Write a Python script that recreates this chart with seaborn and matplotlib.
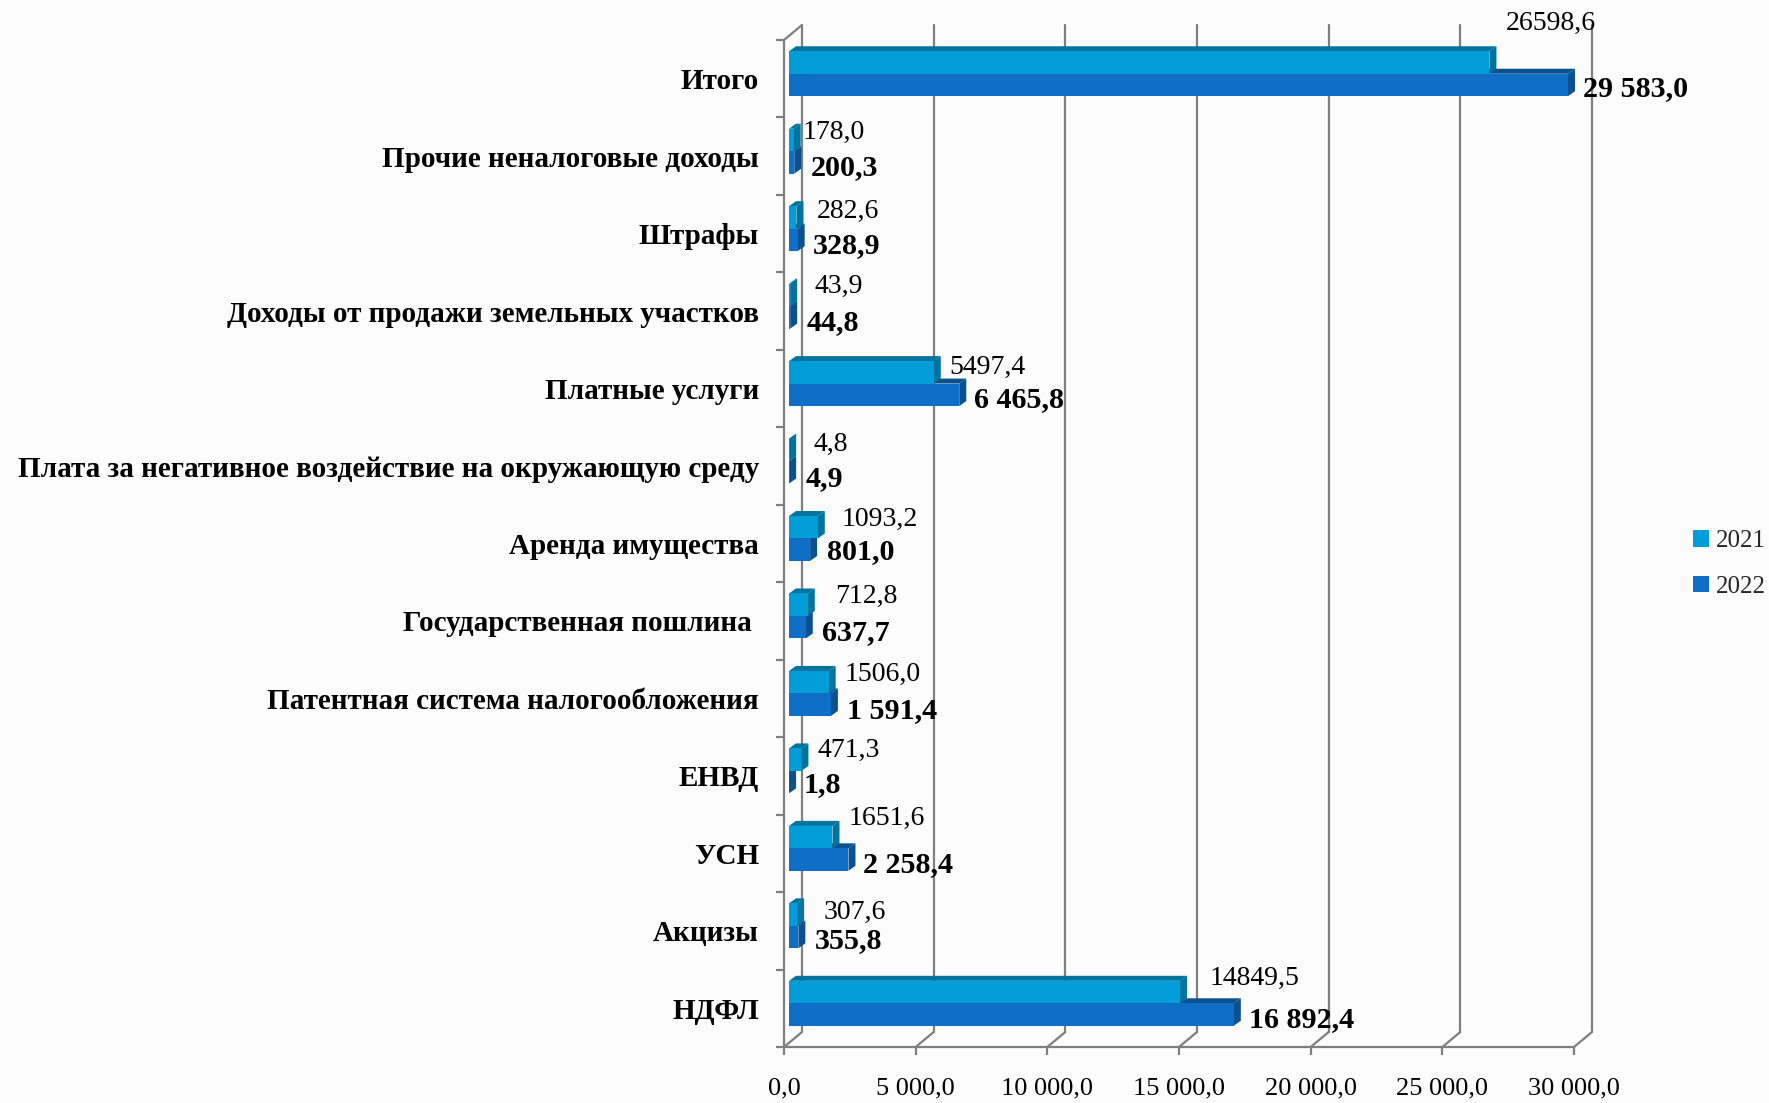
import seaborn as sns
import matplotlib
matplotlib.use('Agg')
import matplotlib.pyplot as plt
from matplotlib.patches import Polygon
from matplotlib.transforms import offset_copy
import numpy as np
import pandas as pd

categories = ['Итого', 'Прочие неналоговые доходы', 'Штрафы',
              'Доходы от продажи земельных участков', 'Платные услуги',
              'Плата за негативное воздействие на окружающую среду',
              'Аренда имущества', 'Государственная пошлина ',
              'Патентная система налогообложения', 'ЕНВД', 'УСН', 'Акцизы', 'НДФЛ']
values_2021 = [26598.6, 178.0, 282.6, 43.9, 5497.4, 4.8, 1093.2, 712.8, 1506.0, 471.3, 1651.6, 307.6, 14849.5]
values_2022 = [29583.0, 200.3, 328.9, 44.8, 6465.8, 4.9, 801.0, 637.7, 1591.4, 1.8, 2258.4, 355.8, 16892.4]
x_ticks = [0, 5000, 10000, 15000, 20000, 25000, 30000]

# label nudges in pixels, the originals were moved by hand
nudge_2021 = [(21, 55), (14, 24), (25, 22), (29, 25), (21, 21), (29, 22), (29, 24),
              (32, 25), (21, 24), (21, 25), (21, 35), (31, 18), (35, 30)]
nudge_2022 = [(20, -10), (21, -11), (20, -12), (21, -11), (20, -11), (21, -13), (22, -8),
              (21, -12), (21, -12), (20, -9), (20, -11), (21, -10), (20, -11)]

W, H = 1769, 1103
GRAY = '#7f7f7f'
FACE = {'2021': '#009DD9', '2022': '#0F6FC6'}
DARK = {'2021': '#00739F', '2022': '#0B5190'}

sns.set_theme(style='white')
plt.rcParams['font.family'] = ['Liberation Serif', 'DejaVu Serif']


def ru(v, spaced=False):
    s = f'{v:,.1f}' if spaced else f'{v:.1f}'
    return s.replace(',', ' ').replace('.', ',')


df = pd.DataFrame({'cat': categories * 2,
                   'val': values_2021 + values_2022,
                   'year': ['2021'] * 13 + ['2022'] * 13})

fig = plt.figure(figsize=(W / 100, H / 100), dpi=100, facecolor='#fcfcfc')
ax = fig.add_axes([784 / W, 1 - 1047 / H, 790 / W, 1007 / H])
ax.patch.set_alpha(0)

sns.barplot(data=df, y='cat', x='val', hue='year', hue_order=['2021', '2022'],
            palette=FACE, saturation=1, width=0.58, gap=0, dodge=True, ax=ax, legend=False)
ax.set_xlim(0, 30000)
ax.set_ylim(12.5, -0.5)

px_x = 30000 / 790
px_y = 13 / 1007
bar_tr = offset_copy(ax.transData, fig=fig, x=5, y=5, units='dots')
DX, DY = 7 * px_x, 5 * px_y

# fake 3d: top and side faces taken from the bars seaborn drew
for cont, year, z in [(ax.containers[1], '2022', 3), (ax.containers[0], '2021', 4)]:
    for p in cont:
        x1 = p.get_x() + p.get_width()
        y0, y1 = p.get_y(), p.get_y() + p.get_height()
        p.set_transform(bar_tr)
        p.set_zorder(z + 0.2)
        p.set_linewidth(0)
        top = [(0, y0), (DX, y0 - DY), (x1 + DX, y0 - DY), (x1, y0)]
        side = [(x1, y0), (x1 + DX, y0 - DY), (x1 + DX, y1 - DY), (x1, y1)]
        for pts in (top, side):
            ax.add_patch(Polygon(pts, closed=True, fc=DARK[year], ec='none',
                                 transform=bar_tr, zorder=z, clip_on=False))

# back wall
wall = offset_copy(ax.transData, fig=fig, x=18, y=15, units='dots')
for t in x_ticks:
    ax.plot([t, t], [12.5, -0.5], color=GRAY, lw=1.6, transform=wall, clip_on=False, zorder=1)
    ax.plot([t, t + 18 * px_x], [12.5, 12.5 - 15 * px_y], color=GRAY, lw=1.6, clip_on=False, zorder=1)
ax.plot([0, 18 * px_x], [-0.5, -0.5 - 15 * px_y], color=GRAY, lw=1.6, clip_on=False, zorder=1)

sns.despine(ax=ax)
for s in ('left', 'bottom'):
    ax.spines[s].set_color(GRAY)
    ax.spines[s].set_linewidth(1.6)

ax.set_xlabel('')
ax.set_ylabel('')
ax.set_xticks(x_ticks)
ax.set_xticklabels([ru(t, True) for t in x_ticks], fontsize=19)
ax.tick_params(axis='x', bottom=True, length=6, width=1.6, color=GRAY, pad=16, labelcolor='black')
ax.set_yticks(range(13))
ax.set_yticklabels(categories, fontsize=21, fontweight='bold', color='black')
ax.set_yticks(np.arange(-0.5, 13), minor=True)
ax.tick_params(axis='y', which='major', length=0, pad=18)
ax.tick_params(axis='y', which='minor', left=True, length=6, width=1.6, color=GRAY)

for i in range(13):
    ax.annotate(ru(values_2021[i]), (values_2021[i], i),
                xytext=(nudge_2021[i][0] * 0.72, nudge_2021[i][1] * 0.72), textcoords='offset points',
                ha='left', va='center', fontsize=20, color='black', zorder=6, annotation_clip=False)
    ax.annotate(ru(values_2022[i], True), (values_2022[i], i),
                xytext=(nudge_2022[i][0] * 0.72, nudge_2022[i][1] * 0.72), textcoords='offset points',
                ha='left', va='center', fontsize=21.7, fontweight='bold', color='black', zorder=6,
                annotation_clip=False)

handles = [plt.Rectangle((0, 0), 1, 1, fc=FACE[y], ec='none') for y in FACE]
fig.legend(handles, list(FACE), loc='center left', bbox_to_anchor=(1693 / W, 1 - 564 / H),
           frameon=False, fontsize=18, handlelength=0.62, handleheight=0.62,
           handletextpad=0.3, labelspacing=0.94, borderpad=0, borderaxespad=0)

fig.savefig('out.png', dpi=100, facecolor=fig.get_facecolor())
